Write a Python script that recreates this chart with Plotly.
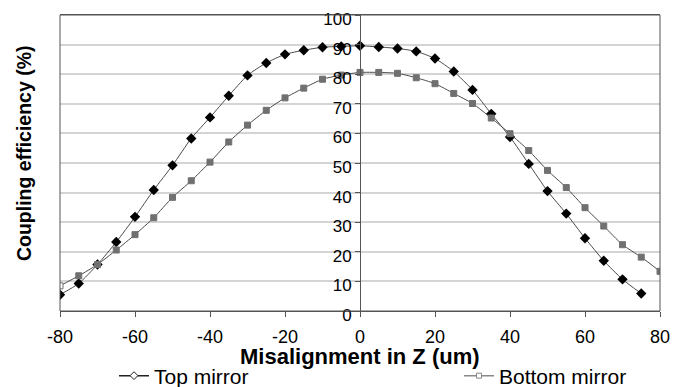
import plotly.graph_objects as go

z_top = [-80, -75, -70, -65, -60, -55, -50, -45, -40, -35, -30, -25, -20, -15, -10, -5,
         0, 5, 10, 15, 20, 25, 30, 35, 40, 45, 50, 55, 60, 65, 70, 75]
top_mirror = [5.5, 9.3, 15.7, 23.3, 31.8, 40.9, 49.2, 58.3, 65.4, 72.7, 79.6, 83.8, 86.7, 88.1, 89.1, 89.4,
              89.6, 89.2, 88.7, 87.7, 85.3, 80.9, 74.7, 66.6, 58.8, 49.7, 40.5, 32.9, 24.6, 17.0, 10.7, 5.9]

z_bottom = [-80, -75, -70, -65, -60, -55, -50, -45, -40, -35, -30, -25, -20, -15, -10, -5,
            0, 5, 10, 15, 20, 25, 30, 35, 40, 45, 50, 55, 60, 65, 70, 75, 80]
bottom_mirror = [8.5, 11.9, 15.7, 20.6, 25.8, 31.5, 38.4, 44.0, 50.3, 57.1, 62.8, 67.8, 72.0, 75.3, 78.3, 79.7,
                 80.6, 80.6, 80.3, 78.8, 76.8, 73.5, 70.1, 65.2, 59.9, 54.2, 47.5, 41.7, 34.9, 28.7, 22.4, 18.2, 13.4]

x_ticks = [-80, -60, -40, -20, 0, 20, 40, 60, 80]
y_ticks = [0, 10, 20, 30, 40, 50, 60, 70, 80, 90, 100]

FONT = "Liberation Sans, Arial, sans-serif"
LINE = "#4a4a4a"

fig = go.Figure()

fig.add_trace(go.Scatter(
    x=z_top, y=top_mirror, mode="lines+markers", showlegend=False,
    line=dict(color=LINE, width=1, shape="spline", smoothing=0.6),
    marker=dict(symbol="diamond", size=8, color="black", line=dict(width=0)),
))

b_colors = ["white"] + ["#707070"] * (len(z_bottom) - 1)
fig.add_trace(go.Scatter(
    x=z_bottom, y=bottom_mirror, mode="lines+markers", showlegend=False,
    line=dict(color=LINE, width=1, shape="spline", smoothing=0.6),
    marker=dict(symbol="square", size=6, color=b_colors, line=dict(width=1, color="#707070")),
))

# legend entries (open markers as in the reference)
fig.add_trace(go.Scatter(
    x=[None], y=[None], mode="lines+markers", name="Top mirror", legend="legend",
    line=dict(color="#222222", width=1.5),
    marker=dict(symbol="diamond", size=6, color="white", line=dict(width=1, color="#222222")),
))
fig.add_trace(go.Scatter(
    x=[None], y=[None], mode="lines+markers", name="Bottom mirror", legend="legend2",
    line=dict(color="#888888", width=1.5),
    marker=dict(symbol="square", size=5, color="white", line=dict(width=1, color="#888888")),
))

W, H = 678, 379  # page body adds an 8px margin
T, B = 7, 76
leg_common = dict(orientation="h", yref="container", y=(H - 368) / H, yanchor="middle",
                  xanchor="left", font=dict(size=21), bgcolor="rgba(0,0,0,0)")

fig.update_layout(
    width=W, height=H,
    margin=dict(l=52, r=26, t=T, b=B, autoexpand=False),
    paper_bgcolor="white", plot_bgcolor="white",
    font=dict(family=FONT, color="black", size=16),
    xaxis=dict(
        range=[-80, 80], tickvals=x_ticks, ticktext=[str(v) for v in x_ticks],
        showgrid=False, zeroline=False, automargin=False,
        showline=True, linecolor="#555555", linewidth=1, mirror=True,
        ticks="outside", ticklen=5, tickcolor="#555555",
        tickfont=dict(size=18), ticklabelstandoff=4,
    ),
    yaxis=dict(
        range=[0, 100], tickvals=y_ticks, ticktext=[str(v) for v in y_ticks],
        anchor="free", position=0.5, automargin=False, ticklabeloverflow="allow",
        ticklabelshift=4,
        showgrid=True, gridcolor="#d4d4d4", gridwidth=1.5,
        zeroline=False,
        showline=True, linecolor="#555555", linewidth=1,
        ticks="outside", ticklen=5, tickcolor="#555555",
        tickfont=dict(size=17),
    ),
    legend=dict(leg_common, xref="container", x=106 / W),
    legend2=dict(leg_common, xref="container", x=451 / W),
    annotations=[
        dict(
            text="<b>Coupling efficiency (%)</b>", textangle=-90,
            xref="paper", yref="paper", x=-0.061, y=0.535, xanchor="center", yanchor="middle",
            showarrow=False, font=dict(size=19.5),
        ),
        dict(
            text="<b>Misalignment in Z (um)</b>",
            xref="paper", yref="paper", x=0.5, y=-(348 - (H - B)) / (H - B - T),
            xanchor="center", yanchor="middle",
            showarrow=False, font=dict(size=22),
        ),
    ],
    shapes=[dict(
        type="rect", xref="paper", yref="paper", x0=0, x1=1, y0=0, y1=1,
        line=dict(color="#555555", width=1), fillcolor="rgba(0,0,0,0)", layer="above",
    )],
)

fig.write_html("out.html")
